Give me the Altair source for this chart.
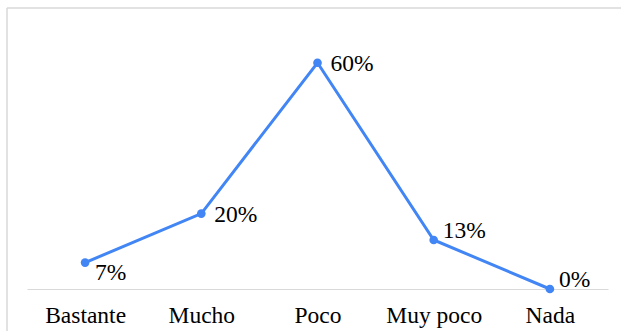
import altair as alt
import pandas as pd

categories = ["Bastante", "Mucho", "Poco", "Muy poco", "Nada"]
values = [7, 20, 60, 13, 0]
labels = ["7%", "20%", "60%", "13%", "0%"]
label_pos = ["below", "right", "right", "above", "above"]

df = pd.DataFrame({"cat": categories, "val": values, "lab": labels, "pos": label_pos})

FONT = "Liberation Serif"
BLUE = "#4285F4"

x = alt.X("cat:N", sort=categories, title=None,
          axis=alt.Axis(labelAngle=0, ticks=False, tickSize=0, labelPadding=14,
                        domainColor="#d9d9d9", domainWidth=1, grid=False,
                        labelFont=FONT, labelFontSize=23.5, labelColor="#000000"))
y = alt.Y("val:Q", scale=alt.Scale(domain=[0, 70], nice=False), axis=None)

base = alt.Chart(df)

line = base.mark_line(color=BLUE, strokeWidth=3).encode(x=x, y=y)
pts = base.mark_point(filled=True, color=BLUE, size=75, opacity=1).encode(x=x, y=y)

def txt(pos, dx, dy):
    return base.transform_filter(alt.datum.pos == pos).mark_text(
        align="left", baseline="middle", dx=dx, dy=dy,
        font=FONT, fontSize=23.5, color="#000000"
    ).encode(x=x, y=y, text="lab:N")

t_right = txt("right", 13, 1)
t_below = txt("below", 10, 10)
t_above = txt("above", 9, -9)

frame = alt.Chart(pd.DataFrame({"a": [0]}))
top_edge = frame.mark_rule(color="#d9d9d9", strokeWidth=1.5).encode(
    x=alt.value(-20), x2=alt.value(700), y=alt.value(-17))
left_edge = frame.mark_rule(color="#d9d9d9", strokeWidth=1.5).encode(
    x=alt.value(-20), y=alt.value(-17), y2=alt.value(400))

chart = alt.layer(top_edge, left_edge, line, pts, t_right, t_below, t_above).properties(
    width=581, height=264,
    padding={"left": 27, "top": 25, "right": 13, "bottom": 42},
    autosize=alt.AutoSizeParams(type="none"),
).configure(background="white").configure_view(strokeWidth=0, stroke="transparent")

chart.save("out.html", embed_options={"renderer": "svg", "actions": False})
